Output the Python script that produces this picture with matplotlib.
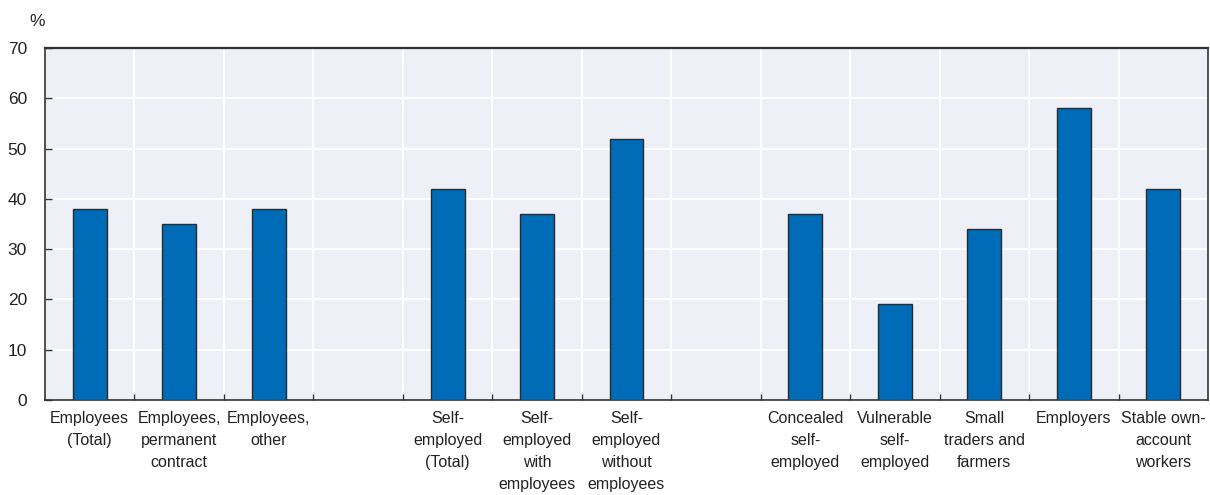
import matplotlib
matplotlib.use("Agg")
import matplotlib.pyplot as plt
import numpy as np

categories = [
    "Employees\n(Total)", "Employees,\npermanent\ncontract", "Employees,\nother", "",
    "Self-\nemployed\n(Total)", "Self-\nemployed\nwith\nemployees", "Self-\nemployed\nwithout\nemployees", "",
    "Concealed\nself-\nemployed", "Vulnerable\nself-\nemployed", "Small\ntraders and\nfarmers",
    "Employers", "Stable own-\naccount\nworkers",
]
values = [38, 35, 38, np.nan, 42, 37, 52, np.nan, 37, 19, 34, 58, 42]
yticks = [0, 10, 20, 30, 40, 50, 60, 70]

plt.rcParams['font.family'] = ['Liberation Sans', 'DejaVu Sans']
FS = 11.5
TXT = "#222222"

fig = plt.figure(figsize=(12.1, 4.95), dpi=100)
ax = fig.add_axes([45/1210, 1 - 400/495, (1208-45)/1210, (400-48)/495])
ax.set_facecolor("#EDF0F7")

x = np.arange(len(categories))
ax.bar(x, values, width=0.38, color="#006BB6", edgecolor="#2b2b2b", linewidth=1.0, zorder=3)

ax.set_xlim(-0.5, len(categories) - 0.5)
ax.set_ylim(0, 70)
ax.set_yticks(yticks)
ax.set_yticklabels([str(v) for v in yticks], fontsize=12.5, color=TXT)

# gridlines
for yv in yticks[1:-1]:
    ax.axhline(yv, color="white", lw=1.5, zorder=1)
bounds = np.arange(0.5, len(categories) - 0.5, 1.0)
for b in bounds:
    ax.axvline(b, color="white", lw=1.5, zorder=1)

ax.set_xticks(bounds)
ax.set_xticklabels([])
ax.set_xticks(x, minor=True)
ax.set_xticklabels(categories, minor=True, fontsize=FS, color=TXT, linespacing=1.57, va="top")
ax.tick_params(axis="x", which="major", direction="in", length=4, width=1, color="#333333")
ax.tick_params(axis="x", which="minor", length=0, pad=8)
ax.tick_params(axis="y", direction="in", length=5, width=1, color="#333333", pad=13)

for s in ax.spines.values():
    s.set_color("#333333")
    s.set_linewidth(1.2)
ax.spines["top"].set_linewidth(1.6)

fig.text(37/1210, 1 - 22/495, "%", fontsize=12.5, color=TXT, ha="center", va="center")

fig.savefig("out.png", dpi=100)
